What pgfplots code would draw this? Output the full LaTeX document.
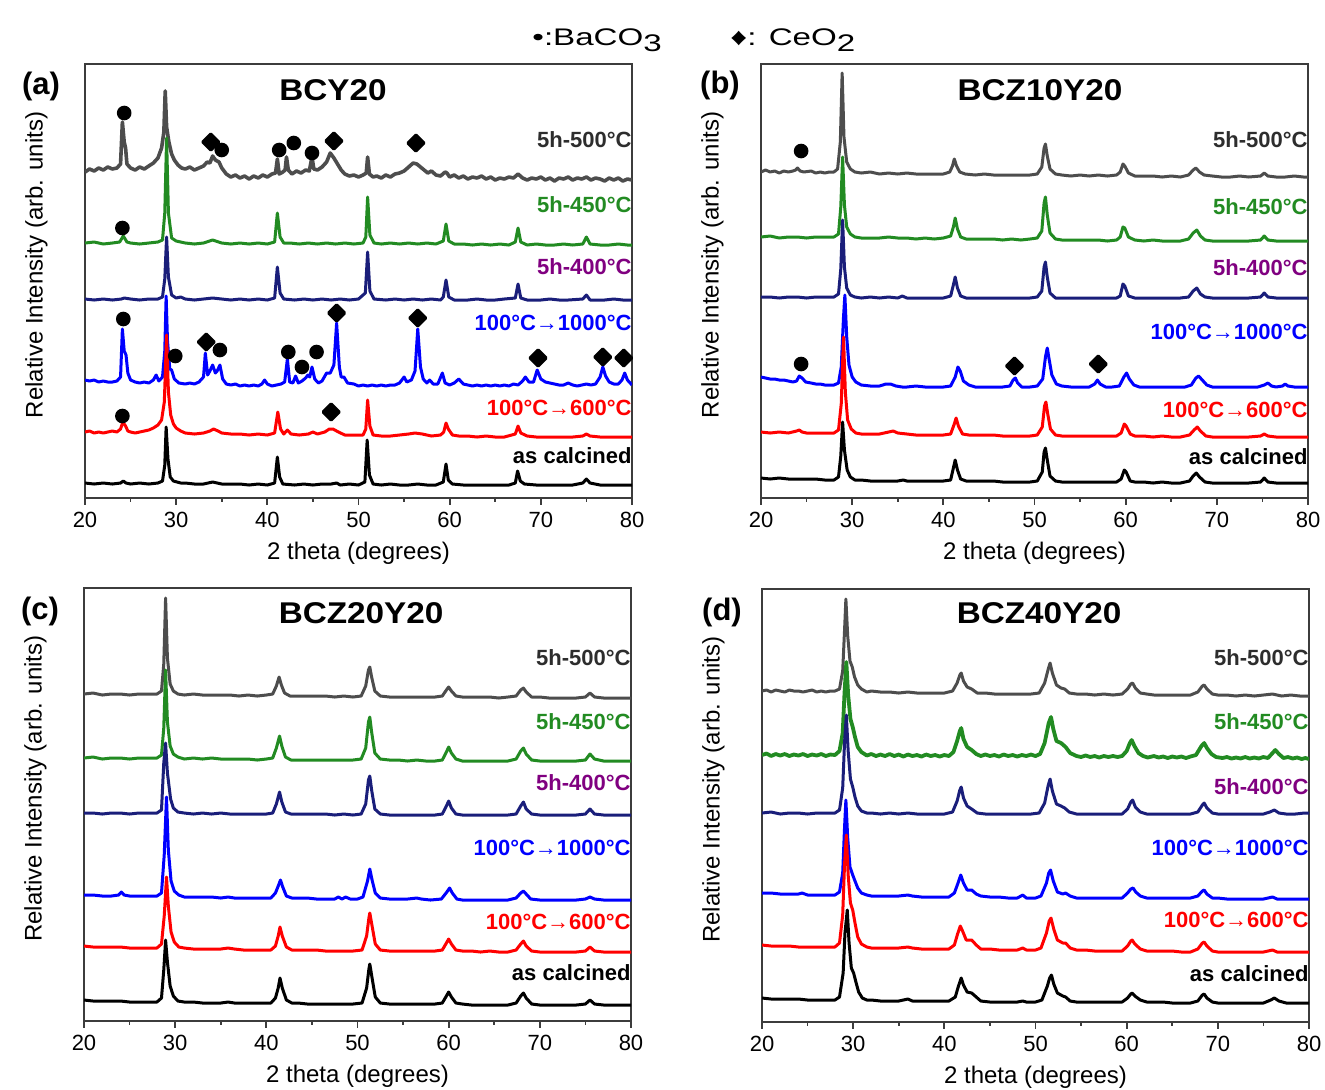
\documentclass[border=0pt]{standalone}
\usepackage{fontspec}
\setmainfont{Liberation Sans}
\setsansfont{Liberation Sans}
\usepackage{pgfplots}
\pgfplotsset{compat=1.18}
\definecolor{cGray}{RGB}{77,77,77}
\definecolor{cGrayT}{RGB}{45,45,45}
\definecolor{cGreen}{RGB}{34,139,34}
\definecolor{cNavy}{RGB}{26,30,122}
\definecolor{cPurple}{RGB}{128,0,128}
\definecolor{cBlue}{RGB}{0,0,255}
\definecolor{cRed}{RGB}{255,0,0}
\definecolor{cAxis}{RGB}{60,60,60}
\tikzset{
  lab/.style={anchor=east, inner sep=0pt, font=\bfseries\fontsize{11}{13}\selectfont},
  ttl/.style={font=\bfseries\fontsize{15}{17}\selectfont, inner sep=0pt},
}
\newcommand{\wide}[1]{\scalebox{1.11}[1]{#1}}
\pgfplotsset{
  xrd/.style={
    scale only axis, width=273.5pt,
    xmin=20, xmax=80,
    xtick={20,30,40,50,60,70,80},
    minor xtick={25,35,45,55,65,75},
    ytick=\empty,
    xtick pos=bottom,
    tick align=outside,
    major tick length=3.4pt, minor tick length=1.8pt,
    axis line style={draw=cAxis, line width=0.9pt},
    tick style={draw=cAxis, line width=0.9pt},
    /pgf/number format/assume math mode=true,
    tick label style={font=\fontsize{11}{13}\selectfont, text=black},
    label style={font=\fontsize{12}{14}\selectfont},
    xlabel={2 theta (degrees)},
    ylabel={Relative Intensity (arb. units)},
    xlabel style={at={(axis description cs:0.5,-0.127)}, anchor=center},
    ylabel style={at={(axis description cs:-0.089,0.537)}, anchor=center},
    every axis plot/.append style={line width=1.5pt, line join=round},
  },
  circ/.style={only marks, mark=*, mark size=2.9pt, black, mark options={fill=black}},
  diam/.style={only marks, mark=square*, mark size=2.85pt, black, mark options={rotate=45, fill=black}},
}
\newcommand{\trace}[3]{\addplot[#1] table[row sep=\\, y expr=\thisrowno{1}+#2] {#3};}
\begin{document}
\begin{tikzpicture}
\useasboundingbox (0pt,0pt) rectangle (662.5pt,-544.5pt);
% legend
\node[anchor=base west, inner sep=0pt, font=\fontsize{12}{13}\selectfont] at (266pt,-22.5pt) {\scalebox{1.38}[1]{•:BaCO\raisebox{-3.3pt}{3}}};
\node[anchor=base west, inner sep=0pt, font=\fontsize{12}{13}\selectfont] at (365pt,-22.5pt) {\scalebox{1.38}[1]{♦: CeO\raisebox{-3.3pt}{2}}};
% panel letters
\node[font=\bfseries\fontsize{15.5}{17}\selectfont] at (20.5pt,-43pt) {(a)};
\node[font=\bfseries\fontsize{15.5}{17}\selectfont] at (360pt,-42.5pt) {(b)};
\node[font=\bfseries\fontsize{15.5}{17}\selectfont] at (20pt,-305.5pt) {(c)};
\node[font=\bfseries\fontsize{15.5}{17}\selectfont] at (361pt,-306pt) {(d)};

%===================== (a) =====================
\begin{axis}[xrd, at={(42.5pt,-249pt)}, anchor=south west, height=217pt, ymin=0, ymax=434]
\trace{cGray, line width=1.8pt}{326}{20 0\\ 20.5 3\\ 21 1\\ 21.5 4\\ 22 2\\ 22.5 5\\ 23 3\\ 23.5 4\\ 23.9 8\\ 24.1 50\\ 24.3 30\\ 24.45 24\\ 24.6 8\\ 25 4\\ 25.5 2\\ 26 5\\ 26.5 3\\ 27 6\\ 27.5 9\\ 28 14\\ 28.4 24\\ 28.65 40\\ 28.8 81\\ 28.95 45\\ 29.2 30\\ 29.5 18\\ 29.8 12\\ 30.2 7\\ 30.6 4\\ 31 3\\ 31.5 5\\ 32 2\\ 32.5 4\\ 33 6\\ 33.4 10\\ 33.7 9\\ 34 16\\ 34.3 12\\ 34.7 10\\ 35 4\\ 35.5 -2\\ 36 -5\\ 36.5 -3\\ 37 -6\\ 37.5 -4\\ 38 -7\\ 38.5 -4\\ 39 -6\\ 39.5 -3\\ 40 -5\\ 40.5 -2\\ 40.9 -1\\ 41.1 13\\ 41.3 -2\\ 41.7 0\\ 41.95 2\\ 42.1 15\\ 42.3 2\\ 42.7 -2\\ 43.2 1\\ 43.7 -1\\ 44.2 2\\ 44.6 1\\ 44.9 15\\ 45.1 3\\ 45.5 2\\ 46 5\\ 46.5 10\\ 46.9 19\\ 47.3 14\\ 47.7 8\\ 48.1 2\\ 48.5 -2\\ 49 -4\\ 49.5 -3\\ 50 -5\\ 50.5 -3\\ 50.85 -1\\ 51 15\\ 51.2 -2\\ 51.6 -5\\ 52 -4\\ 52.5 -6\\ 53 -3\\ 53.5 -5\\ 54 -2\\ 54.5 -1\\ 55 1\\ 55.5 5\\ 56 9\\ 56.4 8\\ 56.8 5\\ 57.2 2\\ 57.6 -1\\ 58 1\\ 58.5 -3\\ 59 -4\\ 59.5 0\\ 59.7 -1\\ 60 -5\\ 60.5 -3\\ 61 -6\\ 61.5 -4\\ 62 -7\\ 62.5 -5\\ 63 -6\\ 63.5 -4\\ 64 -7\\ 64.5 -5\\ 65 -8\\ 65.5 -6\\ 66 -7\\ 66.5 -5\\ 67 -6\\ 67.5 -2\\ 68 -6\\ 68.5 -8\\ 69 -6\\ 69.5 -7\\ 70 -5\\ 70.5 -8\\ 71 -6\\ 71.5 -9\\ 72 -6\\ 72.5 -7\\ 73 -5\\ 73.5 -8\\ 74 -6\\ 74.5 -7\\ 75 -5\\ 75.5 -8\\ 76 -6\\ 76.5 -7\\ 77 -9\\ 77.5 -6\\ 78 -8\\ 78.5 -6\\ 79 -9\\ 79.5 -7\\ 80 -8\\}
\trace{cGreen}{255}{20 0\\ 21 1\\ 22 -1\\ 23 0\\ 23.8 1\\ 24.2 7\\ 24.6 1\\ 25 0\\ 26 -1\\ 27 0\\ 28 1\\ 28.5 3\\ 28.75 30\\ 28.95 105\\ 29.15 30\\ 29.5 5\\ 30 2\\ 31 0\\ 32 -1\\ 33 0\\ 34 3\\ 35 0\\ 36 -1\\ 37 0\\ 38 -1\\ 39 0\\ 40 -1\\ 40.8 1\\ 41.1 30\\ 41.4 6\\ 41.8 0\\ 42.5 0\\ 43.5 -1\\ 44.5 0\\ 45.5 -1\\ 46.5 0\\ 47.5 -1\\ 48.5 0\\ 49.5 -1\\ 50.5 0\\ 50.8 6\\ 51.0 46\\ 51.25 8\\ 51.7 0\\ 52.5 -1\\ 53.5 0\\ 54.5 -1\\ 55.5 0\\ 56.5 -1\\ 57.5 0\\ 58.5 -1\\ 59.3 2\\ 59.6 19\\ 59.9 2\\ 60.5 -1\\ 61.5 -1\\ 62.5 -2\\ 63.5 -1\\ 64.5 -2\\ 65.5 -1\\ 66.5 -2\\ 67.2 1\\ 67.5 15\\ 67.8 1\\ 68.5 -2\\ 69.5 -1\\ 70.5 -2\\ 71.5 -2\\ 72.5 -1\\ 73.5 -2\\ 74.6 -1\\ 75 6\\ 75.4 -1\\ 76.5 -2\\ 77.5 -2\\ 78.5 -1\\ 79.5 -2\\ 80 -2\\}
\trace{cNavy}{199}{20 0\\ 21 -1\\ 22 0\\ 23 -1\\ 24 0\\ 24.3 1\\ 25 0\\ 26 -1\\ 27 0\\ 28 0\\ 28.5 2\\ 28.75 20\\ 28.95 62\\ 29.15 22\\ 29.5 4\\ 30 1\\ 30.5 2\\ 31 0\\ 32 -1\\ 33 0\\ 34 1\\ 35 0\\ 36 -1\\ 37 0\\ 38 -1\\ 39 0\\ 40 -1\\ 40.8 1\\ 41.1 32\\ 41.4 6\\ 41.8 0\\ 43 -1\\ 44 0\\ 45 -1\\ 46 0\\ 47 -1\\ 48 0\\ 49 -1\\ 50 0\\ 50.75 6\\ 51.0 47\\ 51.25 8\\ 51.7 0\\ 53 -1\\ 54 0\\ 55 -1\\ 56 0\\ 57 -1\\ 58 0\\ 59 -1\\ 59.3 2\\ 59.6 19\\ 59.9 2\\ 60.5 -1\\ 62 -1\\ 63 0\\ 64 -1\\ 65 -1\\ 66 0\\ 67.2 1\\ 67.5 15\\ 67.8 1\\ 68.5 -1\\ 70 -1\\ 71 0\\ 72 -1\\ 73 -1\\ 74.6 0\\ 75 4\\ 75.4 -1\\ 77 -1\\ 78 0\\ 79 -1\\ 80 -1\\}
\trace{cBlue}{117}{20 1\\ 20.5 0\\ 21 1\\ 21.5 -1\\ 22 0\\ 22.5 -1\\ 23 -1\\ 23.5 0\\ 23.9 4\\ 24.1 52\\ 24.3 30\\ 24.5 26\\ 24.7 8\\ 25 1\\ 25.5 -1\\ 26 -2\\ 26.5 -1\\ 27 -2\\ 27.5 1\\ 27.8 6\\ 28.1 0\\ 28.5 4\\ 28.75 30\\ 28.9 85\\ 29.05 40\\ 29.3 12\\ 29.5 11\\ 29.8 2\\ 30.3 -2\\ 31 -3\\ 31.5 -2\\ 32 -3\\ 32.5 -1\\ 33 4\\ 33.2 28\\ 33.45 6\\ 33.7 10\\ 34.0 16\\ 34.3 8\\ 34.5 10\\ 34.8 16\\ 35.1 2\\ 35.5 -3\\ 36 -4\\ 36.5 -3\\ 37 -5\\ 37.5 -4\\ 38 -5\\ 38.5 -4\\ 39 -5\\ 39.4 -3\\ 39.7 1\\ 40 -3\\ 40.5 -5\\ 41 -4\\ 41.5 -3\\ 41.9 -1\\ 42.2 22\\ 42.45 -1\\ 42.8 -2\\ 43.1 5\\ 43.4 -2\\ 43.8 0\\ 44.2 3\\ 44.45 6\\ 44.65 4\\ 44.9 14\\ 45.2 2\\ 45.6 -2\\ 46 0\\ 46.5 8\\ 46.9 8\\ 47.3 16\\ 47.6 58\\ 47.9 14\\ 48.1 4\\ 48.4 4\\ 48.8 -2\\ 49.5 -3\\ 50 -5\\ 50.5 -4\\ 51 -5\\ 51.5 -4\\ 52 -5\\ 52.5 -4\\ 53 -5\\ 53.5 -4\\ 54 -4\\ 54.5 -2\\ 55 4\\ 55.3 -1\\ 55.8 1\\ 56.2 10\\ 56.5 52\\ 56.8 14\\ 57.1 2\\ 57.5 -2\\ 57.8 1\\ 58.2 -3\\ 58.7 -3\\ 59.2 8\\ 59.5 -2\\ 60 -4\\ 60.5 -2\\ 61 2\\ 61.5 -3\\ 62 -4\\ 62.5 -5\\ 63 -4\\ 63.5 -5\\ 64 -4\\ 64.5 -5\\ 65 -4\\ 65.5 -5\\ 66 -4\\ 66.5 -5\\ 67 -3\\ 67.5 -4\\ 68 0\\ 68.3 4\\ 68.7 -1\\ 69.2 -1\\ 69.6 11\\ 70 2\\ 70.5 -1\\ 71 -2\\ 71.5 -3\\ 72 -4\\ 72.5 -4\\ 73 -2\\ 73.5 -4\\ 74 -5\\ 74.5 -4\\ 75 -3\\ 75.5 -4\\ 76 -3\\ 76.5 4\\ 76.8 14\\ 77.1 5\\ 77.5 -1\\ 78 -3\\ 78.5 -3\\ 78.9 1\\ 79.2 8\\ 79.5 1\\ 80 -4\\}
\trace{cRed}{66}{20 0\\ 20.5 1\\ 21 -1\\ 21.5 0\\ 22 -1\\ 22.5 0\\ 23 1\\ 23.5 0\\ 23.9 3\\ 24.15 10\\ 24.45 6\\ 24.7 1\\ 25 0\\ 25.5 -1\\ 26 0\\ 26.5 1\\ 27 2\\ 27.5 4\\ 28 7\\ 28.4 12\\ 28.7 30\\ 28.95 97\\ 29.15 40\\ 29.4 17\\ 29.7 8\\ 30 4\\ 30.5 1\\ 31 -1\\ 32 -2\\ 33 -1\\ 33.7 1\\ 34.1 3\\ 34.6 1\\ 35 -1\\ 36 -2\\ 37 -2\\ 38 -3\\ 39 -2\\ 40 -3\\ 40.8 -1\\ 41.15 20\\ 41.45 3\\ 41.8 -2\\ 42.2 2\\ 42.6 -2\\ 43.5 -3\\ 44.5 -2\\ 45 0\\ 45.5 -2\\ 46.3 0\\ 46.8 3\\ 47.2 3\\ 47.8 0\\ 48.5 -3\\ 49.5 -3\\ 50.5 -3\\ 50.8 3\\ 51.0 32\\ 51.25 6\\ 51.6 -3\\ 52.5 -4\\ 53.5 -4\\ 54.5 -3\\ 55.5 -2\\ 56.2 -1\\ 57 -2\\ 58 -4\\ 59 -3\\ 59.35 0\\ 59.6 9\\ 59.85 3\\ 60.3 -3\\ 61 -4\\ 62 -4\\ 63 -5\\ 64 -4\\ 65 -5\\ 66 -5\\ 67.2 -2\\ 67.5 6\\ 67.8 -1\\ 68.5 -4\\ 69.5 -5\\ 70.5 -5\\ 71.5 -5\\ 72.5 -5\\ 73.5 -5\\ 74.6 -4\\ 75 -2\\ 75.4 -4\\ 76.5 -5\\ 77.5 -5\\ 78.5 -5\\ 79.5 -5\\ 80 -5\\}
\trace{black}{15}{20 0\\ 21 -1\\ 22 0\\ 23 -1\\ 23.9 0\\ 24.2 2\\ 24.5 0\\ 25 -1\\ 26 0\\ 27 -1\\ 28 0\\ 28.5 2\\ 28.75 18\\ 28.9 56\\ 29.1 24\\ 29.35 6\\ 29.7 2\\ 30.5 0\\ 31 0\\ 32 -1\\ 33 -1\\ 34 1\\ 35 -1\\ 36 -1\\ 37 -1\\ 38 -2\\ 39 -1\\ 40 -2\\ 40.8 0\\ 41.1 26\\ 41.35 6\\ 41.7 -1\\ 43 -2\\ 44 -1\\ 45 -2\\ 46 -1\\ 47 -1\\ 47.6 0\\ 48 -2\\ 49 -1\\ 50 -2\\ 50.7 1\\ 50.95 43\\ 51.2 8\\ 51.6 -1\\ 52.5 -2\\ 53.5 -1\\ 54.5 -2\\ 55.5 -2\\ 56.5 -1\\ 57.5 -2\\ 58.5 -2\\ 59.3 1\\ 59.6 19\\ 59.85 3\\ 60.3 -1\\ 61.5 -2\\ 62.5 -2\\ 63.5 -2\\ 64.5 -2\\ 65.5 -2\\ 66.5 -2\\ 67.2 0\\ 67.45 12\\ 67.75 2\\ 68.2 -1\\ 69.5 -2\\ 70.5 -2\\ 71.5 -2\\ 72.5 -2\\ 73.5 -2\\ 74.6 0\\ 75 4\\ 75.4 0\\ 76.5 -2\\ 77.5 -2\\ 78.5 -2\\ 79.5 -2\\ 80 -2\\}
\addplot[circ] coordinates {(24.3,385) (35.0,348) (41.3,348) (42.9,355) (44.9,345) (24.1,270) (24.2,179) (29.9,142) (34.8,148) (42.3,146) (43.8,131) (45.4,146) (24.1,82)};
\addplot[diam] coordinates {(33.8,356) (47.3,357) (56.3,355) (33.3,156) (47.6,185) (56.5,180) (69.7,140) (76.8,141) (79.1,140) (47.0,86)};
\node[ttl] at (axis cs:47.2,408) {\wide{BCY20}};
\node[lab, text=cGrayT] at (axis cs:80,358) {5h-500°C};
\node[lab, text=cGreen] at (axis cs:80,293) {5h-450°C};
\node[lab, text=cPurple] at (axis cs:80,231) {5h-400°C};
\node[lab, text=cBlue] at (axis cs:80,175) {100°C→1000°C};
\node[lab, text=cRed] at (axis cs:80,90) {100°C→600°C};
\node[lab, text=black] at (axis cs:80,42) {as calcined};
\end{axis}

%===================== (b) =====================
\begin{axis}[xrd, at={(380.5pt,-249pt)}, anchor=south west, height=217pt, ymin=0, ymax=434]
\trace{cGray}{326}{20 0\\ 20.5 2\\ 21 0\\ 21.5 1\\ 22 -1\\ 22.5 1\\ 23 0\\ 23.5 1\\ 23.8 2\\ 24.0 4\\ 24.3 1\\ 24.7 0\\ 25.5 1\\ 26 -1\\ 26.5 0\\ 27 -1\\ 27.5 0\\ 28 0\\ 28.4 3\\ 28.7 30\\ 28.9 99\\ 29.1 35\\ 29.4 10\\ 29.8 3\\ 30.3 0\\ 31 -1\\ 32 0\\ 33 -2\\ 34 -1\\ 35 -2\\ 36 -1\\ 37 -2\\ 38 -2\\ 39 -2\\ 40 -2\\ 40.7 0\\ 41.0 6\\ 41.2 13\\ 41.45 6\\ 41.8 0\\ 42.4 -2\\ 43.5 -3\\ 44.5 -2\\ 45.5 -3\\ 46.5 -3\\ 47.5 -3\\ 48.5 -3\\ 49.5 -3\\ 50.3 -2\\ 50.8 5\\ 51.05 24\\ 51.2 28\\ 51.4 16\\ 51.7 3\\ 52.3 -2\\ 53 -3\\ 54 -4\\ 55 -3\\ 56 -4\\ 57 -3\\ 58 -4\\ 59 -3\\ 59.4 0\\ 59.7 8\\ 59.9 6\\ 60.3 -1\\ 61 -4\\ 62 -4\\ 63 -4\\ 64 -5\\ 65 -4\\ 66 -5\\ 66.9 -3\\ 67.4 2\\ 67.7 4\\ 68.1 0\\ 68.6 -3\\ 69.5 -4\\ 70.5 -5\\ 71.5 -5\\ 72.5 -4\\ 73.5 -5\\ 74.8 -4\\ 75.2 -1\\ 75.6 -4\\ 76.5 -5\\ 77.5 -5\\ 78.5 -4\\ 79.5 -5\\ 80 -5\\}
\trace{cGreen}{261}{20 0\\ 21 1\\ 22 -1\\ 23 0\\ 24 0\\ 25 -1\\ 26 0\\ 27 0\\ 28 0\\ 28.5 3\\ 28.75 30\\ 28.95 80\\ 29.15 32\\ 29.4 10\\ 29.8 3\\ 30.3 0\\ 31 -1\\ 32 -1\\ 33 -1\\ 34 0\\ 35 -1\\ 36 -1\\ 37 -2\\ 38 -1\\ 39 -2\\ 40 -1\\ 40.8 1\\ 41.1 10\\ 41.3 19\\ 41.55 8\\ 41.9 0\\ 42.5 -2\\ 43.5 -2\\ 44.5 -2\\ 45.5 -2\\ 46.5 -3\\ 47.5 -2\\ 48.5 -3\\ 49.5 -2\\ 50.3 -1\\ 50.8 6\\ 51.05 34\\ 51.2 40\\ 51.4 22\\ 51.7 4\\ 52.3 -2\\ 53 -3\\ 54 -3\\ 55 -3\\ 56 -3\\ 57 -3\\ 58 -4\\ 59 -3\\ 59.4 0\\ 59.7 10\\ 59.9 9\\ 60.3 0\\ 61 -3\\ 62 -4\\ 63 -3\\ 64 -4\\ 65 -4\\ 66 -4\\ 66.9 -2\\ 67.4 4\\ 67.8 7\\ 68.2 1\\ 68.7 -3\\ 69.5 -4\\ 70.5 -4\\ 71.5 -4\\ 72.5 -4\\ 73.5 -4\\ 74.8 -3\\ 75.2 1\\ 75.6 -3\\ 76.5 -4\\ 77.5 -4\\ 78.5 -4\\ 79.5 -4\\ 80 -4\\}
\trace{cNavy}{201}{20 0\\ 21 0\\ 22 -1\\ 23 0\\ 24 0\\ 25 -1\\ 26 0\\ 27 0\\ 28 0\\ 28.5 3\\ 28.75 28\\ 28.95 77\\ 29.15 30\\ 29.4 9\\ 29.8 2\\ 30.3 0\\ 31 -1\\ 32 0\\ 33 -1\\ 34 0\\ 35 -1\\ 35.5 1\\ 36 -1\\ 37 -1\\ 38 -1\\ 39 -1\\ 40 -1\\ 40.8 1\\ 41.1 12\\ 41.3 20\\ 41.55 9\\ 41.9 1\\ 42.5 -1\\ 43.5 -1\\ 44.5 -1\\ 45.5 -1\\ 46.5 -1\\ 47.5 -1\\ 48.5 -1\\ 49.5 -1\\ 50.3 0\\ 50.8 6\\ 51.05 30\\ 51.2 35\\ 51.4 20\\ 51.7 4\\ 52.3 -1\\ 53 -1\\ 54 -1\\ 55 -1\\ 56 -1\\ 57 -1\\ 58 -1\\ 59 -1\\ 59.4 1\\ 59.7 13\\ 59.9 11\\ 60.3 1\\ 61 -1\\ 62 -1\\ 63 -1\\ 64 -1\\ 65 -1\\ 66 -1\\ 66.9 0\\ 67.4 6\\ 67.8 9\\ 68.2 3\\ 68.7 0\\ 69.5 -1\\ 70.5 -1\\ 71.5 -1\\ 72.5 -1\\ 73.5 -1\\ 74.8 0\\ 75.2 4\\ 75.6 0\\ 76.5 -1\\ 77.5 -1\\ 78.5 -1\\ 79.5 -1\\ 80 -1\\}
\trace{cBlue}{121}{20 0\\ 20.5 -1\\ 21 -2\\ 21.5 -2\\ 22 -3\\ 22.5 -3\\ 23 -4\\ 23.5 -5\\ 23.9 -4\\ 24.2 1\\ 24.5 -1\\ 24.9 -5\\ 25.5 -6\\ 26 -7\\ 26.5 -7\\ 27 -8\\ 27.5 -8\\ 28 -8\\ 28.5 -6\\ 28.8 10\\ 29.05 60\\ 29.2 82\\ 29.4 40\\ 29.65 12\\ 30 0\\ 30.4 -5\\ 31 -8\\ 32 -9\\ 33 -9\\ 33.7 -7\\ 34.2 -7\\ 34.8 -9\\ 35.5 -10\\ 36 -10\\ 37 -9\\ 38 -10\\ 39 -10\\ 40 -10\\ 40.8 -9\\ 41.3 0\\ 41.6 10\\ 41.85 6\\ 42.2 -4\\ 42.8 -8\\ 43.5 -10\\ 44.5 -10\\ 45.5 -10\\ 46.5 -10\\ 47.3 -9\\ 47.65 -3\\ 47.9 -1\\ 48.15 -6\\ 48.6 -10\\ 49.5 -10\\ 50.3 -9\\ 50.9 -2\\ 51.2 20\\ 51.4 29\\ 51.6 18\\ 51.9 2\\ 52.4 -7\\ 53 -9\\ 54 -10\\ 55 -10\\ 56 -10\\ 56.6 -7\\ 56.9 -3\\ 57.2 -7\\ 57.8 -10\\ 58.5 -10\\ 59.3 -9\\ 59.8 0\\ 60.1 4\\ 60.4 -2\\ 60.9 -8\\ 61.5 -10\\ 62.5 -10\\ 63.5 -10\\ 64.5 -10\\ 65.5 -10\\ 66.5 -10\\ 67.2 -8\\ 67.7 -1\\ 68 1\\ 68.3 -2\\ 68.9 -8\\ 69.5 -10\\ 70.5 -10\\ 71.5 -10\\ 72.5 -10\\ 73.5 -10\\ 74.5 -10\\ 75.2 -8\\ 75.6 -6\\ 76 -9\\ 76.5 -10\\ 77.2 -9\\ 77.5 -7\\ 77.8 -9\\ 78.5 -10\\ 79.5 -10\\ 80 -10\\}
\trace{cRed}{66}{20 0\\ 21 -1\\ 22 0\\ 23 -1\\ 23.9 1\\ 24.2 2\\ 24.5 0\\ 25 -1\\ 26 -1\\ 27 -1\\ 28 -1\\ 28.5 2\\ 28.8 28\\ 29.05 95\\ 29.25 40\\ 29.5 12\\ 29.9 3\\ 30.4 -1\\ 31 -2\\ 32 -2\\ 33 -2\\ 34 0\\ 34.5 1\\ 35 -1\\ 36 -2\\ 37 -3\\ 38 -3\\ 39 -3\\ 40 -3\\ 40.8 -2\\ 41.2 8\\ 41.4 14\\ 41.65 6\\ 42.1 -2\\ 42.8 -3\\ 43.5 -3\\ 44.5 -3\\ 45.5 -3\\ 46.5 -4\\ 47.5 -4\\ 48.5 -4\\ 49.5 -4\\ 50.3 -3\\ 50.85 5\\ 51.1 26\\ 51.25 30\\ 51.45 18\\ 51.75 3\\ 52.3 -3\\ 53 -4\\ 54 -4\\ 55 -4\\ 56 -4\\ 57 -4\\ 58 -4\\ 59 -4\\ 59.5 -1\\ 59.85 8\\ 60.05 6\\ 60.5 -2\\ 61 -4\\ 62 -4\\ 63 -5\\ 64 -4\\ 65 -5\\ 66 -5\\ 67 -3\\ 67.5 2\\ 67.85 5\\ 68.2 1\\ 68.8 -4\\ 69.5 -5\\ 70.5 -5\\ 71.5 -5\\ 72.5 -5\\ 73.5 -5\\ 74.8 -4\\ 75.2 -2\\ 75.6 -4\\ 76.5 -5\\ 77.5 -5\\ 78.5 -5\\ 79.5 -5\\ 80 -5\\}
\trace{black}{20}{20 0\\ 21 -1\\ 22 0\\ 23 -1\\ 24 -1\\ 25 -1\\ 26 -1\\ 27 -2\\ 28 -2\\ 28.5 1\\ 28.75 22\\ 28.95 56\\ 29.15 28\\ 29.45 8\\ 29.8 1\\ 30.3 -2\\ 31 -2\\ 32 -3\\ 33 -3\\ 34 -3\\ 35 -3\\ 35.6 -2\\ 36 -3\\ 37 -3\\ 38 -3\\ 39 -3\\ 40 -3\\ 40.8 -2\\ 41.1 10\\ 41.3 18\\ 41.55 8\\ 41.9 -1\\ 42.5 -3\\ 43.5 -3\\ 44.5 -3\\ 45.5 -3\\ 46.5 -4\\ 47.5 -4\\ 48.5 -4\\ 49.5 -4\\ 50.3 -3\\ 50.85 6\\ 51.05 26\\ 51.2 30\\ 51.4 18\\ 51.7 2\\ 52.3 -3\\ 53 -4\\ 54 -4\\ 55 -4\\ 56 -4\\ 57 -4\\ 58 -4\\ 59 -4\\ 59.5 -1\\ 59.85 8\\ 60.05 6\\ 60.5 -3\\ 61 -4\\ 62 -4\\ 63 -5\\ 64 -4\\ 65 -5\\ 66 -5\\ 67 -3\\ 67.4 2\\ 67.75 5\\ 68.1 1\\ 68.7 -4\\ 69.5 -5\\ 70.5 -5\\ 71.5 -5\\ 72.5 -5\\ 73.5 -5\\ 74.8 -4\\ 75.2 0\\ 75.6 -4\\ 76.5 -5\\ 77.5 -5\\ 78.5 -5\\ 79.5 -5\\ 80 -5\\}
\addplot[circ] coordinates {(24.4,347) (24.4,134)};
\addplot[diam] coordinates {(47.8,132) (57.0,134)};
\node[ttl] at (axis cs:50.6,408) {\wide{BCZ10Y20}};
\node[lab, text=cGrayT] at (axis cs:80,358) {5h-500°C};
\node[lab, text=cGreen] at (axis cs:80,291) {5h-450°C};
\node[lab, text=cPurple] at (axis cs:80,230) {5h-400°C};
\node[lab, text=cBlue] at (axis cs:80,166) {100°C→1000°C};
\node[lab, text=cRed] at (axis cs:80,88) {100°C→600°C};
\node[lab, text=black] at (axis cs:80,41) {as calcined};
\end{axis}

%===================== (c) =====================
\begin{axis}[xrd, at={(42pt,-510.5pt)}, anchor=south west, height=216.5pt, ymin=0, ymax=433]
\trace{cGray}{327}{20 0\\ 21 1\\ 22 -1\\ 23 0\\ 24 0\\ 25 -1\\ 26 0\\ 27 0\\ 28 0\\ 28.5 3\\ 28.75 30\\ 28.95 96\\ 29.15 36\\ 29.45 10\\ 29.8 3\\ 30.3 0\\ 31 -1\\ 32 0\\ 33 -1\\ 34 -1\\ 35 -1\\ 36 -1\\ 37 -2\\ 38 -1\\ 39 -2\\ 40 -1\\ 40.7 0\\ 41.1 8\\ 41.4 17\\ 41.65 9\\ 42 1\\ 42.6 -2\\ 43.5 -2\\ 44.5 -2\\ 45.5 -2\\ 46.5 -2\\ 47.5 -3\\ 48.5 -2\\ 49.5 -3\\ 50.4 -2\\ 50.9 8\\ 51.2 24\\ 51.35 27\\ 51.55 17\\ 51.9 3\\ 52.5 -2\\ 53.5 -3\\ 54.5 -3\\ 55.5 -3\\ 56.5 -3\\ 57.5 -3\\ 58.5 -3\\ 59.3 -2\\ 59.75 4\\ 60 7\\ 60.3 3\\ 60.8 -2\\ 61.5 -3\\ 62.5 -3\\ 63.5 -3\\ 64.5 -3\\ 65.5 -4\\ 66.5 -3\\ 67.4 -2\\ 67.9 4\\ 68.2 6\\ 68.5 2\\ 69.1 -3\\ 70 -3\\ 71 -4\\ 72 -4\\ 73 -4\\ 74 -4\\ 75 -3\\ 75.5 1\\ 76 -3\\ 77 -4\\ 78 -4\\ 79 -4\\ 80 -4\\}
\trace{cGreen}{263}{20 0\\ 21 1\\ 22 -1\\ 23 0\\ 24 0\\ 25 -1\\ 26 0\\ 27 0\\ 28 0\\ 28.5 3\\ 28.75 30\\ 28.95 88\\ 29.15 36\\ 29.45 12\\ 29.8 4\\ 30.3 1\\ 31 -1\\ 32 0\\ 33 -1\\ 34 0\\ 35 -1\\ 36 -1\\ 37 -1\\ 38 -1\\ 39 -2\\ 40 -1\\ 40.7 0\\ 41.1 10\\ 41.45 22\\ 41.7 12\\ 42.1 1\\ 42.7 -2\\ 43.5 -2\\ 44.5 -2\\ 45.5 -2\\ 46.5 -2\\ 47.5 -2\\ 48.5 -2\\ 49.5 -2\\ 50.4 -1\\ 50.9 10\\ 51.2 36\\ 51.35 41\\ 51.55 26\\ 51.9 5\\ 52.5 -1\\ 53.5 -2\\ 54.5 -2\\ 55.5 -3\\ 56.5 -2\\ 57.5 -3\\ 58.5 -3\\ 59.3 -2\\ 59.75 6\\ 60 11\\ 60.3 5\\ 60.8 -1\\ 61.5 -3\\ 62.5 -3\\ 63.5 -3\\ 64.5 -3\\ 65.5 -3\\ 66.5 -3\\ 67.4 -1\\ 67.9 7\\ 68.2 10\\ 68.5 4\\ 69.1 -2\\ 70 -3\\ 71 -3\\ 72 -3\\ 73 -3\\ 74 -3\\ 75 -2\\ 75.5 4\\ 76 -1\\ 77 -3\\ 78 -3\\ 79 -3\\ 80 -3\\}
\trace{cNavy}{208}{20 0\\ 21 0\\ 22 -1\\ 23 0\\ 24 0\\ 25 -1\\ 26 0\\ 27 0\\ 28 0\\ 28.5 3\\ 28.75 50\\ 28.95 70\\ 29.15 40\\ 29.5 14\\ 29.8 5\\ 30.3 1\\ 31 0\\ 32 -1\\ 33 0\\ 34 -1\\ 35 0\\ 36 -1\\ 37 -1\\ 38 -1\\ 39 -1\\ 40 -1\\ 40.7 0\\ 41.1 9\\ 41.45 21\\ 41.7 11\\ 42.1 1\\ 42.7 -1\\ 43.5 -1\\ 44.5 -1\\ 45.5 -1\\ 46.5 -1\\ 47.5 -2\\ 48.5 -1\\ 49.5 -2\\ 50.4 -1\\ 50.9 9\\ 51.2 33\\ 51.35 37\\ 51.55 23\\ 51.9 4\\ 52.5 -1\\ 53.5 -2\\ 54.5 -2\\ 55.5 -2\\ 56.5 -2\\ 57.5 -2\\ 58.5 -2\\ 59.3 -1\\ 59.75 7\\ 60 12\\ 60.3 5\\ 60.8 -1\\ 61.5 -2\\ 62.5 -2\\ 63.5 -2\\ 64.5 -2\\ 65.5 -2\\ 66.5 -2\\ 67.4 -1\\ 67.9 7\\ 68.2 11\\ 68.5 4\\ 69.1 -1\\ 70 -2\\ 71 -2\\ 72 -2\\ 73 -2\\ 74 -2\\ 75 -1\\ 75.5 4\\ 76 -1\\ 77 -2\\ 78 -2\\ 79 -2\\ 80 -2\\}
\trace{cBlue}{126}{20 0\\ 21 0\\ 22 -1\\ 23 -1\\ 23.8 0\\ 24.1 3\\ 24.4 0\\ 25 -1\\ 26 -1\\ 27 -1\\ 28 -1\\ 28.5 2\\ 28.8 40\\ 29.05 98\\ 29.25 45\\ 29.55 14\\ 29.9 4\\ 30.4 0\\ 31 -2\\ 32 -2\\ 33 -2\\ 34 -2\\ 35 -3\\ 35.8 -2\\ 36.5 -3\\ 37.5 -3\\ 38.5 -3\\ 39.5 -3\\ 40.5 -3\\ 41 2\\ 41.35 10\\ 41.55 15\\ 41.8 8\\ 42.2 -1\\ 42.8 -3\\ 43.5 -3\\ 44.5 -3\\ 45.5 -4\\ 46.5 -4\\ 47.5 -4\\ 47.9 -2\\ 48.3 -4\\ 48.7 -2\\ 49.2 -4\\ 50 -4\\ 50.6 -2\\ 51.1 14\\ 51.35 26\\ 51.6 15\\ 51.95 2\\ 52.5 -3\\ 53.5 -4\\ 54.5 -4\\ 55.5 -4\\ 56.5 -3\\ 57 -4\\ 58 -5\\ 59.2 -4\\ 59.8 3\\ 60.1 7\\ 60.4 2\\ 60.9 -4\\ 61.5 -5\\ 62.5 -5\\ 63.5 -5\\ 64.5 -5\\ 65.5 -5\\ 66.5 -5\\ 67.4 -3\\ 67.9 2\\ 68.2 4\\ 68.5 1\\ 69 -4\\ 70 -5\\ 71 -5\\ 72 -5\\ 73 -5\\ 74 -5\\ 75 -4\\ 75.5 -2\\ 76 -4\\ 77 -5\\ 78 -5\\ 79 -5\\ 80 -5\\}
\trace{cRed}{75}{20 0\\ 21 -1\\ 22 -1\\ 23 -1\\ 24 -1\\ 25 -2\\ 26 -2\\ 27 -2\\ 28 -2\\ 28.5 2\\ 28.8 30\\ 29.05 69\\ 29.25 40\\ 29.55 14\\ 29.9 4\\ 30.4 -1\\ 31 -2\\ 32 -3\\ 33 -3\\ 34 -3\\ 35 -3\\ 35.8 -2\\ 36.5 -3\\ 37.5 -4\\ 38.5 -4\\ 39.5 -4\\ 40.5 -4\\ 41 0\\ 41.3 10\\ 41.5 19\\ 41.75 10\\ 42.2 -1\\ 42.8 -4\\ 43.5 -4\\ 44.5 -4\\ 45.5 -4\\ 46.5 -5\\ 47.5 -5\\ 48.5 -5\\ 49.5 -5\\ 50.5 -4\\ 51 10\\ 51.25 28\\ 51.35 33\\ 51.6 20\\ 51.95 2\\ 52.5 -4\\ 53.5 -5\\ 54.5 -5\\ 55.5 -5\\ 56.5 -5\\ 57.5 -5\\ 58.5 -5\\ 59.3 -4\\ 59.75 3\\ 60 7\\ 60.3 2\\ 60.8 -4\\ 61.5 -5\\ 62.5 -5\\ 63.5 -6\\ 64.5 -5\\ 65.5 -6\\ 66.5 -6\\ 67.4 -4\\ 67.9 2\\ 68.2 5\\ 68.5 0\\ 69.1 -5\\ 70 -6\\ 71 -6\\ 72 -6\\ 73 -6\\ 74 -6\\ 75 -5\\ 75.5 -1\\ 76 -5\\ 77 -6\\ 78 -6\\ 79 -6\\ 80 -6\\}
\trace{black}{21}{20 0\\ 21 -1\\ 22 -1\\ 23 -1\\ 24 -1\\ 25 -2\\ 26 -2\\ 27 -2\\ 28 -2\\ 28.5 2\\ 28.75 30\\ 28.95 60\\ 29.15 38\\ 29.45 14\\ 29.8 4\\ 30.3 -1\\ 31 -2\\ 32 -2\\ 33 -3\\ 34 -3\\ 35 -3\\ 35.8 -2\\ 36.5 -3\\ 37.5 -3\\ 38.5 -3\\ 39.5 -3\\ 40.5 -3\\ 41 2\\ 41.3 12\\ 41.5 22\\ 41.75 12\\ 42.2 0\\ 42.8 -3\\ 43.5 -3\\ 44.5 -4\\ 45.5 -4\\ 46.5 -4\\ 47.5 -4\\ 48.5 -4\\ 49.5 -4\\ 50.5 -3\\ 51 12\\ 51.25 31\\ 51.35 36\\ 51.6 22\\ 51.95 3\\ 52.5 -3\\ 53.5 -4\\ 54.5 -4\\ 55.5 -4\\ 56.5 -4\\ 57.5 -4\\ 58.5 -4\\ 59.3 -3\\ 59.75 4\\ 60 8\\ 60.3 3\\ 60.8 -3\\ 61.5 -4\\ 62.5 -5\\ 63.5 -5\\ 64.5 -5\\ 65.5 -5\\ 66.5 -5\\ 67.4 -3\\ 67.9 4\\ 68.2 7\\ 68.5 2\\ 69.1 -4\\ 70 -5\\ 71 -5\\ 72 -5\\ 73 -5\\ 74 -5\\ 75 -4\\ 75.5 0\\ 76 -4\\ 77 -5\\ 78 -5\\ 79 -5\\ 80 -5\\}
\node[ttl] at (axis cs:50.4,408) {\wide{BCZ20Y20}};
\node[lab, text=cGrayT] at (axis cs:80,363) {5h-500°C};
\node[lab, text=cGreen] at (axis cs:80,299) {5h-450°C};
\node[lab, text=cPurple] at (axis cs:80,238) {5h-400°C};
\node[lab, text=cBlue] at (axis cs:80,173) {100°C→1000°C};
\node[lab, text=cRed] at (axis cs:80,99) {100°C→600°C};
\node[lab, text=black] at (axis cs:80,48) {as calcined};
\end{axis}

%===================== (d) =====================
\begin{axis}[xrd, at={(381pt,-511pt)}, anchor=south west, height=216.5pt, ymin=0, ymax=433]
\trace{cGray}{331}{20 0\\ 20.5 1\\ 21 -1\\ 21.5 1\\ 22 0\\ 22.5 -1\\ 23 1\\ 23.5 0\\ 24 0\\ 24.5 -1\\ 25 0\\ 25.5 1\\ 26 -1\\ 26.5 0\\ 27 -1\\ 27.5 0\\ 28 0\\ 28.5 2\\ 28.85 20\\ 29.05 60\\ 29.2 92\\ 29.4 55\\ 29.65 30\\ 29.9 24\\ 30.15 14\\ 30.5 6\\ 30.9 2\\ 31.5 -1\\ 32 0\\ 33 -1\\ 34 -1\\ 35 -2\\ 36 -1\\ 37 -2\\ 38 -2\\ 39 -2\\ 40 -2\\ 40.9 0\\ 41.4 8\\ 41.7 16\\ 41.85 18\\ 42.1 10\\ 42.5 4\\ 43 2\\ 43.6 -2\\ 44.5 -2\\ 45.5 -3\\ 46.5 -3\\ 47.5 -3\\ 48.5 -3\\ 49.5 -3\\ 50.4 -2\\ 51 8\\ 51.4 22\\ 51.6 28\\ 51.85 18\\ 52.3 6\\ 52.8 3\\ 53.2 2\\ 53.7 -2\\ 54.5 -3\\ 55.5 -3\\ 56.5 -4\\ 57.5 -3\\ 58.5 -4\\ 59.5 -3\\ 60.1 2\\ 60.45 7\\ 60.65 8\\ 60.95 3\\ 61.5 -2\\ 62.2 -3\\ 63 -4\\ 64 -4\\ 65 -4\\ 66 -4\\ 67 -4\\ 67.8 -1\\ 68.3 5\\ 68.5 6\\ 68.8 2\\ 69.4 -3\\ 70 -4\\ 71 -4\\ 72 -5\\ 73 -4\\ 74 -5\\ 75 -4\\ 76 -3\\ 77 -5\\ 78 -4\\ 79 -5\\ 80 -5\\}
\trace{cGreen, line width=1.9pt}{267}{20 0\\ 20.5 1.5\\ 21 -1\\ 21.5 1\\ 22 -0.5\\ 22.5 1\\ 23 -1\\ 23.5 0.5\\ 24 -0.5\\ 24.5 1\\ 25 -1\\ 25.5 0.5\\ 26 -0.5\\ 26.5 1\\ 27 -1\\ 27.5 0.5\\ 28 0\\ 28.5 4\\ 28.85 22\\ 29.05 62\\ 29.25 93\\ 29.45 60\\ 29.7 36\\ 29.95 28\\ 30.2 18\\ 30.5 8\\ 30.9 3\\ 31.5 -0.5\\ 32 1\\ 32.5 -1\\ 33 0.5\\ 33.5 -1\\ 34 1\\ 34.5 -1\\ 35 0.5\\ 35.5 -1.5\\ 36 0.5\\ 36.5 -1\\ 37 0\\ 37.5 -1.5\\ 38 0.5\\ 38.5 -1\\ 39 0\\ 39.5 -1.5\\ 40 0\\ 40.5 -1\\ 41 3\\ 41.4 14\\ 41.7 24\\ 41.85 27\\ 42.1 16\\ 42.5 8\\ 43 5\\ 43.5 1\\ 44 -1\\ 44.5 0.5\\ 45 -1\\ 45.5 0\\ 46 -1.5\\ 46.5 0.5\\ 47 -1\\ 47.5 0\\ 48 -1.5\\ 48.5 0\\ 49 -1\\ 49.5 0.5\\ 50 -1\\ 50.5 1\\ 51 12\\ 51.45 32\\ 51.7 38\\ 51.95 26\\ 52.3 14\\ 52.8 12\\ 53.3 8\\ 53.8 2\\ 54.5 -1\\ 55 -2\\ 55.5 -0.5\\ 56 -2\\ 56.5 -1\\ 57 -2.5\\ 57.5 -1\\ 58 -2\\ 58.5 -1\\ 59 -2\\ 59.5 -1\\ 60 4\\ 60.35 12\\ 60.55 15\\ 60.85 9\\ 61.3 2\\ 61.8 -1\\ 62.3 -2.5\\ 63 -1\\ 63.5 -2.5\\ 64 -1.5\\ 64.5 -3\\ 65 -1.5\\ 65.5 -2.5\\ 66 -1.5\\ 66.5 -3\\ 67 -1.5\\ 67.6 0\\ 68.2 9\\ 68.5 12\\ 68.8 7\\ 69.3 1\\ 69.8 -2\\ 70.5 -3\\ 71 -2\\ 71.5 -3.5\\ 72 -2.5\\ 72.5 -3.5\\ 73 -2\\ 73.5 -3.5\\ 74 -2.5\\ 74.5 -3.5\\ 75 -2\\ 75.5 -3\\ 76 2\\ 76.3 5\\ 76.7 1\\ 77.2 -3\\ 77.7 -2\\ 78.2 -3.5\\ 78.7 -2.5\\ 79.2 -4\\ 79.6 -3\\ 80 -4\\}
\trace{cNavy}{209}{20 0\\ 21 1\\ 22 -1\\ 23 0\\ 24 0\\ 25 -1\\ 26 0\\ 27 0\\ 28 0\\ 28.5 3\\ 28.85 25\\ 29.05 70\\ 29.25 98\\ 29.45 62\\ 29.7 34\\ 29.95 26\\ 30.2 16\\ 30.5 7\\ 30.9 2\\ 31.5 0\\ 32 0\\ 33 -1\\ 34 0\\ 35 -1\\ 36 0\\ 37 -1\\ 38 -1\\ 39 -1\\ 40 -1\\ 40.9 1\\ 41.4 12\\ 41.7 23\\ 41.85 26\\ 42.1 15\\ 42.5 7\\ 43 4\\ 43.6 0\\ 44.5 -1\\ 45.5 -1\\ 46.5 -1\\ 47.5 -1\\ 48.5 -1\\ 49.5 -1\\ 50.4 0\\ 51 10\\ 51.4 28\\ 51.6 34\\ 51.85 22\\ 52.3 9\\ 52.8 7\\ 53.2 5\\ 53.7 1\\ 54.5 -1\\ 55.5 -1\\ 56.5 -1\\ 57.5 -1\\ 58.5 -1\\ 59.5 -1\\ 60.1 4\\ 60.45 11\\ 60.65 13\\ 60.95 6\\ 61.5 1\\ 62.2 -1\\ 63 -1\\ 64 -1\\ 65 -1\\ 66 -1\\ 67 -1\\ 67.8 1\\ 68.3 8\\ 68.5 10\\ 68.8 5\\ 69.4 0\\ 70 -1\\ 71 -1\\ 72 -1\\ 73 -1\\ 74 -1\\ 75 -1\\ 75.7 1\\ 76.2 3\\ 76.7 0\\ 77.5 -1\\ 78.5 -1\\ 79.5 0\\ 80 0\\}
\trace{cBlue}{129}{20 0\\ 21 0\\ 22 -1\\ 23 -1\\ 24 -1\\ 24.4 0\\ 25 -2\\ 26 -2\\ 27 -2\\ 28 -2\\ 28.5 1\\ 28.85 20\\ 29.05 65\\ 29.2 93\\ 29.4 55\\ 29.65 26\\ 29.95 18\\ 30.2 12\\ 30.5 5\\ 30.9 0\\ 31.5 -2\\ 32 -3\\ 33 -3\\ 34 -3\\ 35 -3\\ 36 -2\\ 36.5 -3\\ 37.5 -4\\ 38.5 -4\\ 39.5 -4\\ 40.5 -4\\ 41.1 0\\ 41.5 10\\ 41.8 18\\ 42.1 10\\ 42.5 3\\ 43 3\\ 43.5 -1\\ 44 -3\\ 45 -4\\ 46 -4\\ 47 -5\\ 48 -5\\ 48.6 -2\\ 49 -5\\ 50 -5\\ 50.6 -3\\ 51.2 10\\ 51.45 20\\ 51.65 23\\ 51.95 12\\ 52.4 1\\ 53 -1\\ 53.3 0\\ 53.8 -3\\ 54.5 -5\\ 55.5 -5\\ 56.5 -5\\ 57.5 -5\\ 58.5 -5\\ 59.5 -5\\ 60.1 0\\ 60.45 4\\ 60.7 5\\ 61 1\\ 61.5 -3\\ 62.2 -5\\ 63 -5\\ 64 -5\\ 65 -5\\ 66 -5\\ 67 -5\\ 67.8 -3\\ 68.3 2\\ 68.5 3\\ 68.8 -1\\ 69.4 -5\\ 70 -5\\ 71 -6\\ 72 -6\\ 73 -6\\ 74 -6\\ 75 -6\\ 76 -4\\ 76.5 -6\\ 77.5 -6\\ 78.5 -6\\ 79.5 -6\\ 80 -6\\}
\trace{cRed}{77}{20 0\\ 21 -1\\ 22 -1\\ 23 -1\\ 24 -2\\ 25 -2\\ 26 -2\\ 27 -2\\ 28 -2\\ 28.5 2\\ 28.85 30\\ 29.05 80\\ 29.25 110\\ 29.45 70\\ 29.7 42\\ 29.95 35\\ 30.2 22\\ 30.5 8\\ 30.9 1\\ 31.5 -2\\ 32 -3\\ 33 -3\\ 34 -3\\ 35 -3\\ 36 -2\\ 36.5 -3\\ 37.5 -4\\ 38.5 -4\\ 39.5 -4\\ 40.5 -4\\ 41.1 0\\ 41.45 11\\ 41.75 19\\ 42 14\\ 42.4 5\\ 43 5\\ 43.5 0\\ 44 -4\\ 45 -4\\ 46 -5\\ 47 -5\\ 48 -5\\ 48.6 -3\\ 49 -5\\ 50 -5\\ 50.6 -3\\ 51.2 12\\ 51.5 24\\ 51.7 27\\ 52 16\\ 52.4 5\\ 53 2\\ 53.3 2\\ 53.8 -3\\ 54.5 -5\\ 55.5 -5\\ 56.5 -6\\ 57.5 -6\\ 58.5 -6\\ 59.5 -6\\ 60.1 -1\\ 60.45 4\\ 60.6 5\\ 60.9 1\\ 61.5 -4\\ 62.2 -6\\ 63 -6\\ 64 -6\\ 65 -6\\ 66 -7\\ 67 -7\\ 67.8 -4\\ 68.3 2\\ 68.5 3\\ 68.8 -1\\ 69.4 -6\\ 70 -7\\ 71 -7\\ 72 -7\\ 73 -7\\ 74 -7\\ 75 -7\\ 76 -5\\ 76.5 -7\\ 77.5 -7\\ 78.5 -7\\ 79.5 -7\\ 80 -7\\}
\trace{black}{24}{20 0\\ 21 -1\\ 22 -1\\ 23 -1\\ 24 -1\\ 25 -2\\ 26 -2\\ 27 -2\\ 28 -2\\ 28.5 1\\ 28.9 25\\ 29.1 65\\ 29.35 88\\ 29.55 55\\ 29.8 30\\ 30.05 25\\ 30.3 16\\ 30.6 6\\ 31 0\\ 31.5 -2\\ 32 -2\\ 33 -3\\ 34 -3\\ 35 -3\\ 36 -1\\ 36.5 -3\\ 37.5 -3\\ 38.5 -3\\ 39.5 -3\\ 40.5 -3\\ 41.2 1\\ 41.55 12\\ 41.85 20\\ 42.1 13\\ 42.5 6\\ 43 5\\ 43.5 1\\ 44 -3\\ 45 -4\\ 46 -4\\ 47 -4\\ 48 -4\\ 48.6 -3\\ 49 -4\\ 50 -4\\ 50.7 -2\\ 51.3 12\\ 51.55 20\\ 51.75 23\\ 52 14\\ 52.4 5\\ 53 2\\ 53.3 1\\ 53.8 -3\\ 54.5 -4\\ 55.5 -4\\ 56.5 -4\\ 57.5 -4\\ 58.5 -4\\ 59.5 -4\\ 60.1 0\\ 60.45 4\\ 60.6 5\\ 60.9 2\\ 61.5 -2\\ 62.2 -4\\ 63 -4\\ 64 -4\\ 65 -5\\ 66 -5\\ 67 -5\\ 67.8 -3\\ 68.3 3\\ 68.5 4\\ 68.8 0\\ 69.4 -4\\ 70 -5\\ 71 -5\\ 72 -5\\ 73 -5\\ 74 -5\\ 75 -5\\ 75.8 -2\\ 76.2 0\\ 76.7 -3\\ 77.5 -5\\ 78.5 -5\\ 79.5 -5\\ 80 -5\\}
\node[ttl] at (axis cs:50.4,409) {\wide{BCZ40Y20}};
\node[lab, text=cGrayT] at (axis cs:80,364) {5h-500°C};
\node[lab, text=cGreen] at (axis cs:80,300) {5h-450°C};
\node[lab, text=cPurple] at (axis cs:80,235) {5h-400°C};
\node[lab, text=cBlue] at (axis cs:80,174) {100°C→1000°C};
\node[lab, text=cRed] at (axis cs:80,102) {100°C→600°C};
\node[lab, text=black] at (axis cs:80,48) {as calcined};
\end{axis}
\end{tikzpicture}
\end{document}
